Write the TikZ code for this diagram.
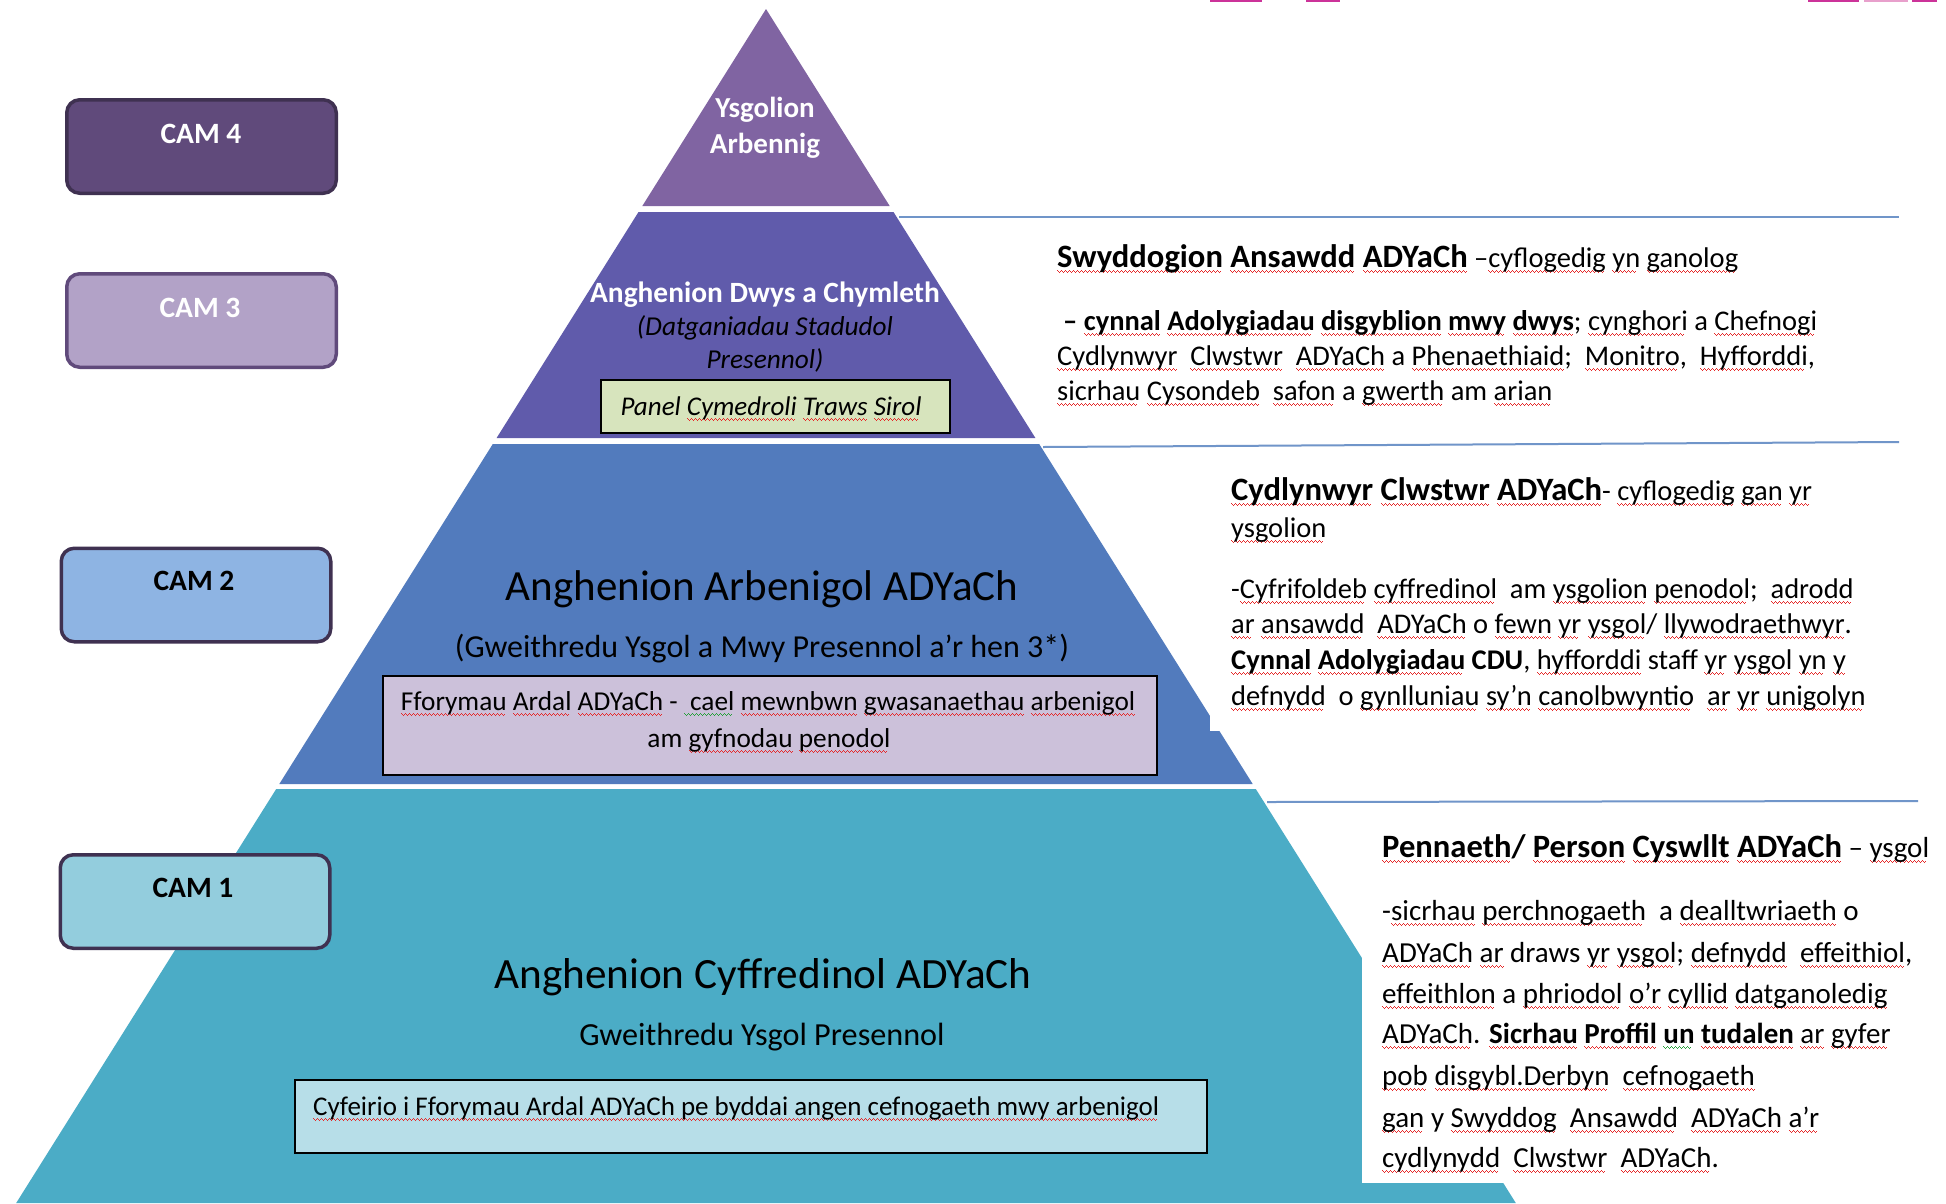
\documentclass[tikz,border=0pt]{standalone}
\usepackage{fontspec}
\setmainfont{Carlito}
\definecolor{lvlfour}{RGB}{128,100,162}
\definecolor{lvlthree}{RGB}{96,91,171}
\definecolor{lvltwo}{RGB}{82,123,189}
\definecolor{lvlone}{RGB}{75,172,198}
\definecolor{panelfill}{RGB}{215,228,189}
\definecolor{boxtwofill}{RGB}{204,193,218}
\definecolor{boxonefill}{RGB}{183,222,232}
\definecolor{camfourfill}{RGB}{96,74,123}
\definecolor{camfourdraw}{RGB}{63,49,81}
\definecolor{camthreefill}{RGB}{178,162,199}
\definecolor{camthreedraw}{RGB}{96,74,123}
\definecolor{camtwofill}{RGB}{142,180,227}
\definecolor{camonefill}{RGB}{147,205,221}
\definecolor{sepblue}{RGB}{112,149,201}
\definecolor{wavered}{RGB}{230,40,40}
\definecolor{wavegreen}{RGB}{40,160,60}
\definecolor{topmark}{RGB}{204,51,153}
\definecolor{topmarklight}{RGB}{232,160,204}
\newcommand\fsz[1]{\fontsize{#1}{#1}\selectfont}
\newcommand\wavepiece{\rule[-4pt]{1pt}{1pt}\rule[-5pt]{1pt}{1pt}\rule[-6pt]{1pt}{1pt}\rule[-5pt]{1pt}{1pt}}
\newsavebox\wvbox
\newcommand\wavecol[2]{\sbox\wvbox{#2}\leavevmode\rlap{\color{#1}\leaders\hbox{\wavepiece}\hskip\wd\wvbox}\usebox\wvbox}
\newcommand\wv[1]{\wavecol{wavered}{#1}}
\newcommand\wg[1]{\wavecol{wavegreen}{#1}}
\newcommand\hd[1]{{\fsz{32.6}\bfseries #1}}
\tikzset{
  lbl/.style={inner sep=0pt, anchor=base},
  rtxt/.style={inner sep=0pt, anchor=base west, font=\fsz{28.5}},
  ctxt/.style={inner sep=0pt, anchor=base west, font=\fsz{29}},
  cambox/.style={draw, line width=3.5pt, rounded corners=13pt, minimum width=269.5pt, minimum height=93.5pt, inner sep=0pt},
  camlabel/.style={inner sep=0pt, anchor=base, font=\fsz{29.5}\bfseries},
  tbox/.style={draw=black, line width=2.5pt, inner sep=0pt},
  sepline/.style={draw=sepblue, line width=2pt},
}
\begin{document}
\begin{tikzpicture}[x=1pt,y=-1pt]
\useasboundingbox[fill=white] (0,0) rectangle (1946,1203);
% pyramid levels
\fill[lvlfour] (766,9) -- (889.7,206) -- (642.3,206) -- cycle;
\fill[lvlthree] (638.5,212) -- (893.5,212) -- (1035.4,438) -- (496.6,438) -- cycle;
\fill[lvltwo] (492.8,444) -- (1039.2,444) -- (1252.7,784) -- (279.3,784) -- cycle;
\fill[lvlone] (276.2,789) -- (1255.8,789) -- (1515.8,1203) -- (16.2,1203) -- cycle;
% white text panels covering the right edge
\fill[white] (1210,450) rectangle (1900,731);
\fill[white] (1362,806) rectangle (1946,1183);
% separator lines
\coordinate (s1a) at (899,217); \coordinate (s1b) at (1899,217);
\coordinate (s2a) at (1043,447); \coordinate (s2b) at (1899,442);
\coordinate (s3a) at (1267,802); \coordinate (s3b) at (1918,801);
\draw[sepline] (s1a) -- (s1b);
\draw[sepline] (s2a) -- (s2b);
\draw[sepline] (s3a) -- (s3b);
% top marks
\fill[topmark] (1210,0) rectangle (1262,2);
\fill[topmark] (1306,0) rectangle (1340,2);
\fill[topmark] (1808,0) rectangle (1859,2);
\fill[topmarklight] (1864,0) rectangle (1908,2);
\fill[topmark] (1912,0) rectangle (1937,2);
% CAM boxes
\node[cambox, fill=camfourfill, draw=camfourdraw] (cam4) at (201.5,146.5) {};
\node[camlabel, text=white] (cam4t) at (201,143) {CAM 4};
\node[cambox, fill=camthreefill, draw=camthreedraw] (cam3) at (201.5,320.5) {};
\node[camlabel, text=white] (cam3t) at (200,317) {CAM 3};
\node[cambox, fill=camtwofill, draw=camfourdraw] (cam2) at (196,595) {};
\node[camlabel, text=black] (cam2t) at (194,590) {CAM 2};
\node[cambox, fill=camonefill, draw=camfourdraw] (cam1) at (195,901.5) {};
\node[camlabel, text=black] (cam1t) at (193,897) {CAM 1};
% level 4
\node[lbl, text=white, font=\fsz{29}\bfseries] (l4a) at (765,117) {Ysgolion};
\node[lbl, text=white, font=\fsz{29}\bfseries] (l4b) at (765,153) {Arbennig};
% level 3
\node[lbl, text=white, font=\fsz{29.4}\bfseries] (l3a) at (765,302) {Anghenion Dwys a Chymleth};
\node[lbl, text=black, font=\fsz{27.3}\itshape] (l3b) at (765,335) {(Datganiadau Stadudol};
\node[lbl, text=black, font=\fsz{27.3}\itshape] (l3c) at (765,368) {Presennol)};
\node[tbox, fill=panelfill, minimum width=349pt, minimum height=53pt] (panel) at (775.5,406.5) {};
\node[lbl, text=black, font=\fsz{27}\itshape] (panelt) at (771,415) {Panel \wv{Cymedroli} \wv{Traws} \wv{Sirol}};
% level 2
\node[lbl, text=black, font=\fsz{43}] (l2a) at (762,600) {Anghenion Arbenigol ADYaCh};
\node[lbl, text=black, font=\fsz{32}] (l2b) at (762,657) {(Gweithredu Ysgol a Mwy Presennol a\char"0027r hen 3*)};
\node[tbox, fill=boxtwofill, minimum width=774pt, minimum height=99pt] (box2) at (770,725.5) {};
\node[lbl, text=black, font=\fsz{27.3}] (box2a) at (768,710) {\wv{Fforymau} \wv{Ardal} \wv{ADYaCh} -\ \wg{\ cael} \wv{mewnbwn} \wv{gwasanaethau} \wv{arbenigol}};
\node[lbl, text=black, font=\fsz{27.3}] (box2b) at (769,747) {am \wv{gyfnodau} \wv{penodol}};
% level 1
\node[lbl, text=black, font=\fsz{43.2}] (l1a) at (763,988) {Anghenion Cyffredinol ADYaCh};
\node[lbl, text=black, font=\fsz{32.2}] (l1b) at (762,1045) {Gweithredu Ysgol Presennol};
\node[tbox, fill=boxonefill, minimum width=912pt, minimum height=73pt] (box1) at (751,1116.5) {};
\node[inner sep=0pt, anchor=base west, text=black, font=\fsz{27}] (box1t) at (313,1115) {\wv{Cyfeirio i Fforymau Ardal ADYaCh pe byddai angen cefnogaeth mwy arbenigol}};
% right block A
\node[rtxt] (ra1) at (1057,267) {\hd{\wv{Swyddogion} \wv{Ansawdd} \wv{ADYaCh}} –\wv{cyflogedig} \wv{yn} \wv{ganolog}};
\node[rtxt] (ra2) at (1057,330) {\hspace*{6pt}\textbf{– \wv{cynnal} \wv{Adolygiadau} \wv{disgyblion} \wv{mwy} \wv{dwys}}; \wv{cynghori} a \wv{Chefnogi}};
\node[rtxt] (ra3) at (1057,365) {\wv{Cydlynwyr}\ \ \wv{Clwstwr}\ \ \wv{ADYaCh} a \wv{Phenaethiaid};\ \ \wv{Monitro},\ \ \wv{Hyfforddi},};
\node[rtxt] (ra4) at (1057,400) {\wv{sicrhau} \wv{Cysondeb}\ \ \wv{safon} a \wv{gwerth} am \wv{arian}};
% right block B
\node[rtxt] (rb1) at (1231,500) {\hd{\wv{Cydlynwyr} \wv{Clwstwr} \wv{ADYaCh}}- \wv{cyflogedig} \wv{gan} \wv{yr}};
\node[rtxt] (rb2) at (1231,537) {\wv{ysgolion}};
\node[rtxt] (rb3) at (1231,598) {-\wv{Cyfrifoldeb} \wv{cyffredinol}\ \ am \wv{ysgolion} \wv{penodol};\ \ \wv{adrodd}};
\node[rtxt] (rb4) at (1231,633) {\wv{ar} \wv{ansawdd}\ \ \wv{ADYaCh} o \wv{fewn} \wv{yr} \wv{ysgol}/ \wv{llywodraethwyr}.};
\node[rtxt] (rb5) at (1231,669) {\textbf{\wv{Cynnal} \wv{Adolygiadau} CDU}, \wv{hyfforddi} staff \wv{yr} \wv{ysgol} \wv{yn} \wv{y}};
\node[rtxt] (rb6) at (1231,705) {\wv{defnydd}\ \ o \wv{gynlluniau} \wv{sy’n} \wv{canolbwyntio}\ \ \wv{ar} \wv{yr} \wv{unigolyn}};
% right block C
\node[ctxt] (rc1) at (1382,857) {\hd{\wv{Pennaeth}/ \wv{Person} \wv{Cyswllt} \wv{ADYaCh}} – \wv{ysgol}};
\node[ctxt] (rc2) at (1382,920) {-\wv{sicrhau} \wv{perchnogaeth}\ \ a \wv{dealltwriaeth} o};
\node[ctxt] (rc3) at (1382,962) {\wv{ADYaCh} \wv{ar} draws \wv{yr} \wv{ysgol}; \wv{defnydd}\ \ \wv{effeithiol},};
\node[ctxt] (rc4) at (1382,1003) {\wv{effeithlon} a \wv{phriodol} \wv{o’r} \wv{cyllid} \wv{datganoledig}};
\node[ctxt] (rc5) at (1382,1043) {\wv{ADYaCh}. \textbf{\wv{Sicrhau} \wv{Proffil} \wg{un} \wv{tudalen}} \wv{ar} \wv{gyfer}};
\node[ctxt] (rc6) at (1382,1085) {\wv{pob} \wv{disgybl.Derbyn}\ \ \wv{cefnogaeth}};
\node[ctxt] (rc7) at (1382,1127) {\wv{gan} y \wv{Swyddog}\ \ \wv{Ansawdd}\ \ \wv{ADYaCh} \wv{a’r}};
\node[ctxt] (rc8) at (1382,1167) {\wv{cydlynydd}\ \ \wv{Clwstwr}\ \ \wv{ADYaCh}.};
\end{tikzpicture}
\end{document}
